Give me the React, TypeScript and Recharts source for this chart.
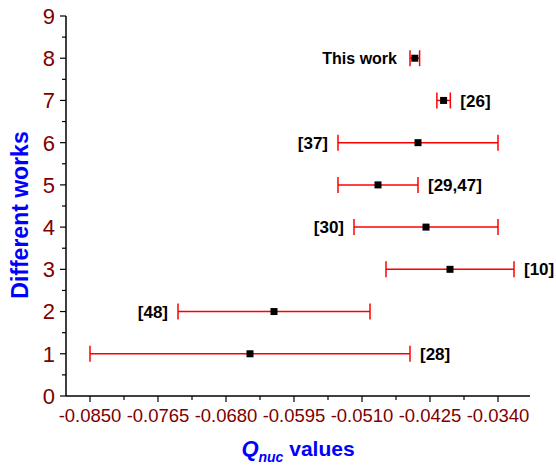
import { ScatterChart, Scatter, XAxis, YAxis, ErrorBar, Label } from 'recharts';

// values (y = work index, x = Q_nuc with symmetric error)
const works = [1, 2, 3, 4, 5, 6, 7, 8];
const qValues = [-0.065, -0.062, -0.04, -0.043, -0.049, -0.044, -0.0408, -0.0444];
const qErrors = [0.02, 0.012, 0.008, 0.009, 0.005, 0.01, 0.00084, 0.0006];
const refLabels = ['[28]', '[48]', '[10]', '[30]', '[29,47]', '[37]', '[26]', 'This work'];
const labelSides = ['right', 'left', 'right', 'left', 'right', 'left', 'right', 'left'];

const xMajorTicks = [-0.085, -0.0765, -0.068, -0.0595, -0.051, -0.0425, -0.034];
const xMinorTicks = [-0.08075, -0.07225, -0.06375, -0.05525, -0.04675, -0.03825];
const yMajorTicks = [0, 1, 2, 3, 4, 5, 6, 7, 8, 9];
const yMinorTicks = [0.5, 1.5, 2.5, 3.5, 4.5, 5.5, 6.5, 7.5, 8.5];

const FONT = '"Liberation Sans", Arial, sans-serif';
const TICK_COLOR = '#800000';
const TITLE_COLOR = '#0000ff';

const points = works.map((w, i) => ({ q: qValues[i], work: w, err: qErrors[i] }));

const labelPoints = works.map((w, i) => ({
  q: labelSides[i] === 'right' ? qValues[i] + qErrors[i] : qValues[i] - qErrors[i],
  work: w,
  text: refLabels[i],
  side: labelSides[i],
}));

function XTick(props: any) {
  const { x, y, payload } = props;
  const major = xMajorTicks.includes(payload.value);
  return (
    <g>
      <line x1={x} y1={y} x2={x} y2={y + (major ? 6 : 4)} stroke="#000" strokeWidth={1.2} />
      {major && (
        <text x={x} y={y + 26} textAnchor="middle" fontFamily={FONT} fontSize={18.5} fill={TICK_COLOR}>
          {payload.value.toFixed(4)}
        </text>
      )}
    </g>
  );
}

function YTick(props: any) {
  const { x, y, payload } = props;
  const major = yMajorTicks.includes(payload.value);
  return (
    <g>
      <line x1={x} y1={y} x2={x - (major ? 6 : 4)} y2={y} stroke="#000" strokeWidth={1.2} />
      {major && (
        <text x={x - 11} y={y} dy="0.36em" textAnchor="end" fontFamily={FONT} fontSize={22} fill={TICK_COLOR}>
          {payload.value}
        </text>
      )}
    </g>
  );
}

function SquareDot(props: any) {
  const { cx, cy } = props;
  return <rect x={cx - 3.5} y={cy - 3.5} width={7} height={7} fill="#000" />;
}

function RefLabel(props: any) {
  const { cx, cy, payload } = props;
  const right = payload.side === 'right';
  const gap = payload.text === 'This work' ? 13 : 10;
  return (
    <text
      x={right ? cx + gap : cx - gap}
      y={cy}
      dy="0.36em"
      textAnchor={right ? 'start' : 'end'}
      fontFamily={FONT}
      fontWeight="bold"
      fontSize={payload.text === 'This work' ? 16 : 17}
      fill="#000"
    >
      {payload.text}
    </text>
  );
}

export default function App() {
  return (
    <div style={{ position: 'absolute', left: 0, top: 0, width: 556, height: 466, background: '#fff' }}>
      <ScatterChart width={556} height={466} margin={{ top: 16, right: 26, left: 6, bottom: 0 }}>
        <XAxis
          type="number"
          dataKey="q"
          domain={[-0.088, -0.03]}
          ticks={[...xMajorTicks, ...xMinorTicks]}
          interval={0}
          tick={<XTick />}
          tickLine={false}
          tickSize={0}
          tickMargin={0}
          height={70}
          axisLine={{ stroke: '#000', strokeWidth: 1.5 }}
        >
          <Label
            content={() => (
              <text x={298} y={456} textAnchor="middle" fontFamily={FONT} fontWeight="bold" fill={TITLE_COLOR}>
                <tspan fontSize={22} fontStyle="italic">Q</tspan>
                <tspan fontSize={14} fontStyle="italic" dy={6}>nuc</tspan>
                <tspan fontSize={21} dy={-6}> values</tspan>
              </text>
            )}
          />
        </XAxis>
        <YAxis
          type="number"
          dataKey="work"
          domain={[0, 9]}
          ticks={[...yMajorTicks, ...yMinorTicks]}
          interval={0}
          tick={<YTick />}
          tickLine={false}
          tickSize={0}
          tickMargin={0}
          width={60}
          axisLine={{ stroke: '#000', strokeWidth: 1.5 }}
        >
          <Label
            content={() => (
              <text
                transform="translate(28,215) rotate(-90)"
                textAnchor="middle"
                fontFamily={FONT}
                fontWeight="bold"
                fontSize={23}
                fill={TITLE_COLOR}
              >
                Different works
              </text>
            )}
          />
        </YAxis>
        <Scatter data={points} shape={<SquareDot />} isAnimationActive={false}>
          <ErrorBar dataKey="err" direction="x" width={8} stroke="#ff0000" strokeWidth={1.5} isAnimationActive={false} />
        </Scatter>
        <Scatter data={labelPoints} shape={<RefLabel />} isAnimationActive={false} />
      </ScatterChart>
    </div>
  );
}
